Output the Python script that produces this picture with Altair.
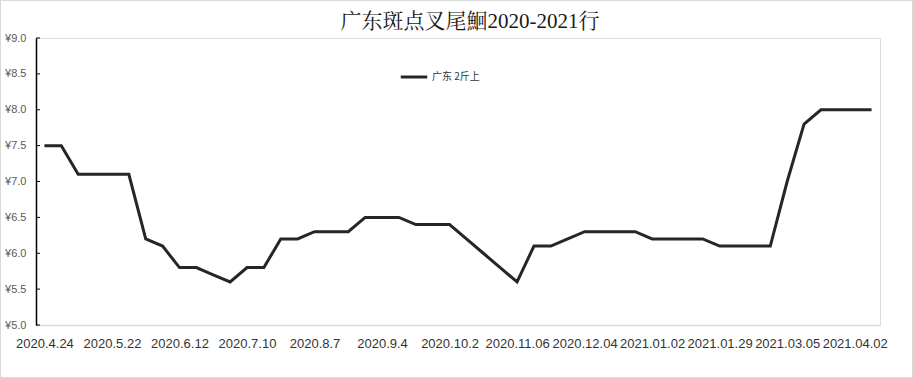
import altair as alt
import pandas as pd

title_text = "广东斑点叉尾鮰2020-2021行"
series_name = "广东 2斤上"
tick_labels = ["2020.4.24", "2020.5.22", "2020.6.12", "2020.7.10", "2020.8.7",
               "2020.9.4", "2020.10.2", "2020.11.06", "2020.12.04", "2021.01.02",
               "2021.01.29", "2021.03.05", "2021.04.02"]
prices = [7.5, 7.5, 7.1, 7.1, 7.1, 7.1, 6.2, 6.1, 5.8, 5.8,
          5.7, 5.6, 5.8, 5.8, 6.2, 6.2, 6.3, 6.3, 6.3, 6.5,
          6.5, 6.5, 6.4, 6.4, 6.4, 6.2, 6.0, 5.8, 5.6, 6.1,
          6.1, 6.2, 6.3, 6.3, 6.3, 6.3, 6.2, 6.2, 6.2, 6.2,
          6.1, 6.1, 6.1, 6.1, 7.0, 7.8, 8.0, 8.0, 8.0, 8.0]
y_ticks = [5.0, 5.5, 6.0, 6.5, 7.0, 7.5, 8.0, 8.5, 9.0]

df = pd.DataFrame({"idx": list(range(len(prices))), "price": prices,
                   "series": [series_name] * len(prices)})
label_positions = [i * 4 for i in range(len(tick_labels))]
label_map = "{" + ",".join(f"'{p}':'{l}'" for p, l in zip(label_positions, tick_labels)) + "}"

W, H = 844, 287

y_scale = alt.Scale(domain=[5, 9], nice=False, zero=False)
y_axis = alt.Axis(values=y_ticks, labelExpr="'¥' + format(datum.value, '.1f')",
                  title=None, grid=False, ticks=False, domainColor="#000000",
                  domainWidth=1.5, labelFont="Liberation Sans", labelFontSize=11,
                  labelColor="#595959", labelPadding=10, labelOverlap=False,
                  labelFlush=False, labelBound=False)

line = alt.Chart(df).mark_line(strokeWidth=3, clip=False).encode(
    x=alt.X("idx:Q", scale=alt.Scale(domain=[-0.5, len(prices) - 0.5], nice=False, zero=False),
            axis=alt.Axis(values=label_positions, labelExpr=f"{label_map}[''+datum.value]",
                          title=None, grid=False, ticks=False, domainColor="#d9d9d9",
                          domainWidth=1.5, labelFont="Liberation Sans", labelFontSize=13,
                          labelColor="#333333", labelPadding=12, labelFlush=False,
                          labelOverlap=False)),
    y=alt.Y("price:Q", scale=y_scale, axis=y_axis),
    color=alt.Color("series:N", scale=alt.Scale(domain=[series_name], range=["#262626"]),
                    legend=alt.Legend(title=None, orient="none", legendX=363, legendY=24,
                                      symbolType="stroke", symbolStrokeWidth=3, symbolSize=700,
                                      labelFont="Noto Sans CJK SC", labelFontSize=10,
                                      labelColor="#333333", labelOffset=3)),
)

tick_df = pd.DataFrame({"price": y_ticks})
ticks = alt.Chart(tick_df).mark_rule(color="#000000", strokeWidth=1).encode(
    y=alt.Y("price:Q", scale=y_scale, axis=y_axis), x=alt.value(0), x2=alt.value(4))

border = alt.Chart(tick_df).mark_rect(fill=None, stroke="#d9d9d9", strokeWidth=1, clip=False).encode(
    x=alt.value(-35.5), x2=alt.value(876.5), y=alt.value(-37.5), y2=alt.value(339.5))

title_df = pd.DataFrame({"t": [title_text]})
title = alt.Chart(title_df).mark_text(
    fontSize=21, font="Liberation Serif, Noto Serif CJK SC, Noto Sans CJK SC",
    color="#1a1a1a", align="center", baseline="alphabetic", clip=False
).encode(text="t:N", x=alt.value(434), y=alt.value(-10))

chart = alt.layer(border, line, ticks, title).properties(
    width=W, height=H,
    autosize=alt.AutoSizeParams(type="none"),
    padding={"left": 36, "top": 38, "right": 33, "bottom": 53},
).configure_view(stroke=None).configure(background="white")

chart.save("out.html", embed_options={"renderer": "svg", "actions": False})
